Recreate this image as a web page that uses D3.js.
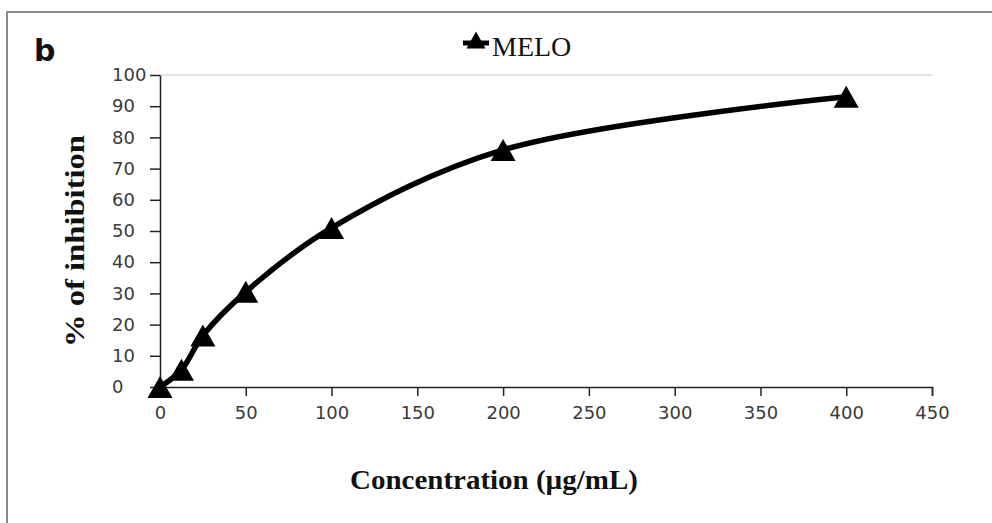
<!DOCTYPE html>
<html>
<head>
<meta charset="utf-8">
<script src="https://cdn.jsdelivr.net/npm/d3@7"></script>
<style>
  body { margin: 0; background: #fff; }
  svg { display: block; }
</style>
</head>
<body>
<svg id="chart"></svg>
<script>
// concentrations (µg/mL) and % inhibition for MELO
var concentrations = [0, 12.5, 25, 50, 100, 200, 400];
var inhibition     = [0, 5.5, 16.5, 30.5, 51, 76, 93];
var xTicks = [0, 50, 100, 150, 200, 250, 300, 350, 400, 450];
var yTicks = [0, 10, 20, 30, 40, 50, 60, 70, 80, 90, 100];
var seriesName = "MELO";

var width = 992,
    height = 523;

var serif = "'Liberation Serif', 'Times New Roman', serif";
var sans  = "'DejaVu Sans', Verdana, sans-serif";

var svg = d3.select("#chart")
    .attr("width", width)
    .attr("height", height);

// outer frame (only top and left edges show)
svg.append("path")
    .attr("d", "M7," + height + "V12H" + width)
    .attr("fill", "none")
    .attr("stroke", "#8a8a8a")
    .attr("stroke-width", 2);

var x = d3.scaleLinear().domain([0, 450]).range([160, 932]);
var y = d3.scaleLinear().domain([0, 100]).range([387, 75]);

// top gridline
svg.append("line")
    .attr("x1", x(0)).attr("x2", x(450))
    .attr("y1", y(100)).attr("y2", y(100))
    .attr("stroke", "#d9d9d9")
    .attr("stroke-width", 1.5);

var xAxis = svg.append("g")
    .attr("transform", "translate(0," + y(0) + ")")
    .call(d3.axisBottom(x).tickValues(xTicks).tickSize(9).tickSizeOuter(9));

var yAxis = svg.append("g")
    .attr("transform", "translate(" + x(0) + ",0)")
    .call(d3.axisLeft(y).tickValues(yTicks).tickSize(10).tickSizeOuter(0));

[xAxis, yAxis].forEach(function(g) {
  g.select(".domain").attr("stroke", "#222").attr("stroke-width", 1.5);
  g.selectAll(".tick line").attr("stroke", "#222").attr("stroke-width", 1.5);
  g.selectAll(".tick text")
    .attr("fill", "#3a3a3a")
    .style("font-family", sans)
    .style("font-size", "18px");
});
xAxis.selectAll(".tick text").attr("y", 14).attr("dy", "1em");
// labels in the reference are left aligned
yAxis.selectAll(".tick text")
    .attr("text-anchor", "start")
    .attr("x", -48);

var points = concentrations.map(function(c, i) {
  return { x: c, y: inhibition[i] };
});

var line = d3.line()
    .x(function(d) { return x(d.x); })
    .y(function(d) { return y(d.y); })
    .curve(d3.curveCatmullRom.alpha(0.5));

svg.append("path")
    .datum(points)
    .attr("d", line)
    .attr("fill", "none")
    .attr("stroke", "#000")
    .attr("stroke-width", 5.5);

// Excel style triangle: box of w x h centered on the point
function triangle(w, h) {
  return "M0," + (-h / 2) + "L" + (w / 2) + "," + (h / 2) + "L" + (-w / 2) + "," + (h / 2) + "Z";
}

svg.selectAll(".marker")
    .data(points)
    .enter().append("path")
    .attr("class", "marker")
    .attr("d", triangle(25, 22))
    .attr("transform", function(d) {
      return "translate(" + x(d.x) + "," + y(d.y) + ")";
    })
    .attr("fill", "#000");

// legend
svg.append("line")
    .attr("x1", 463).attr("x2", 489)
    .attr("y1", 43).attr("y2", 43)
    .attr("stroke", "#000")
    .attr("stroke-width", 5);
svg.append("path")
    .attr("d", triangle(19, 17))
    .attr("transform", "translate(476,40)")
    .attr("fill", "#000");
svg.append("text")
    .attr("x", 492).attr("y", 56)
    .style("font-family", serif)
    .style("font-size", "28px")
    .attr("fill", "#111")
    .text(seriesName);

// panel letter
svg.append("text")
    .attr("x", 34).attr("y", 61)
    .style("font-family", sans)
    .style("font-size", "30px")
    .style("font-weight", "bold")
    .attr("fill", "#111")
    .text("b");

// axis titles
svg.append("text")
    .attr("text-anchor", "middle")
    .attr("x", 494).attr("y", 489)
    .attr("textLength", 288)
    .attr("lengthAdjust", "spacingAndGlyphs")
    .style("font-family", serif)
    .style("font-size", "28px")
    .style("font-weight", "bold")
    .attr("fill", "#111")
    .text("Concentration (µg/mL)");

svg.append("text")
    .attr("text-anchor", "middle")
    .attr("transform", "translate(84,241) rotate(-90)")
    .attr("textLength", 212)
    .attr("lengthAdjust", "spacingAndGlyphs")
    .style("font-family", serif)
    .style("font-size", "27px")
    .style("font-weight", "bold")
    .attr("fill", "#111")
    .text("% of inhibition");
</script>
</body>
</html>
